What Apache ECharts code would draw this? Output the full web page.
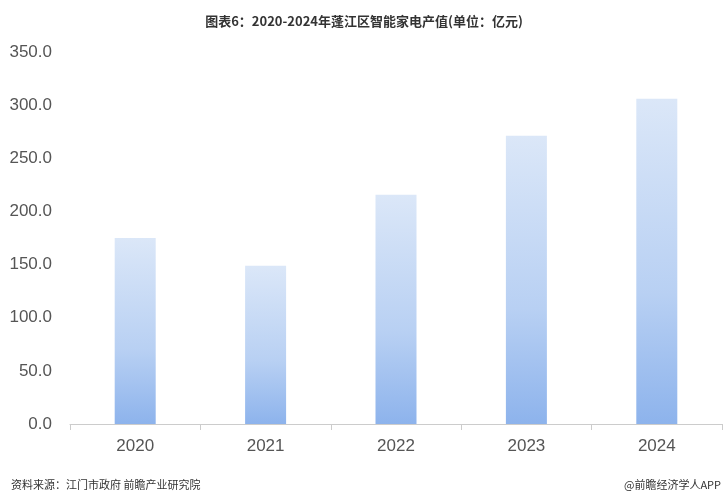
<!DOCTYPE html><html><head><meta charset="utf-8"><script src="https://cdn.jsdelivr.net/npm/echarts@6/dist/echarts.min.js"></script>
<style>body{margin:0}#c{width:728px;height:504px}</style></head><body><div id="c"></div><script>
const categories=['2020','2021','2022','2023','2024'];
const values=[175.0,148.8,215.6,271.2,306.0];
const chart=echarts.init(document.getElementById('c'));
chart.setOption({
animation:false,
title:[{text:'图表6：2020-2024年蓬江区智能家电产值(单位：亿元)',left:'center',top:10,textStyle:{fontSize:13,fontWeight:'bold',color:'#333',fontFamily:'Noto Sans CJK SC'}},
{text:'资料来源：江门市政府 前瞻产业研究院',left:6,top:474,textStyle:{fontSize:11,fontWeight:'normal',color:'#333',fontFamily:'Noto Sans CJK SC'}},
{text:'@前瞻经济学人APP',right:2,top:474,textStyle:{fontSize:11,fontWeight:'normal',color:'#333',fontFamily:'Noto Sans CJK SC'}}],
grid:{left:70,right:6,top:52,bottom:80},
xAxis:{type:'category',data:categories,axisLine:{lineStyle:{color:'#ccc'}},axisTick:{show:true,lineStyle:{color:'#ccc'},length:6},axisLabel:{fontSize:17,color:'#555',margin:14}},
yAxis:{type:'value',min:0,max:350,interval:50,splitLine:{show:false},axisLine:{show:false},axisTick:{show:false},axisLabel:{fontSize:17,color:'#555',margin:18,formatter:v=>v.toFixed(1)}},
series:[{type:'bar',data:values,barWidth:41,itemStyle:{color:new echarts.graphic.LinearGradient(0,0,0,1,[{offset:0,color:'#dbe7f8'},{offset:0.6,color:'#b8d0f3'},{offset:1,color:'#8db3ec'}])}}]
});
</script></body></html>
